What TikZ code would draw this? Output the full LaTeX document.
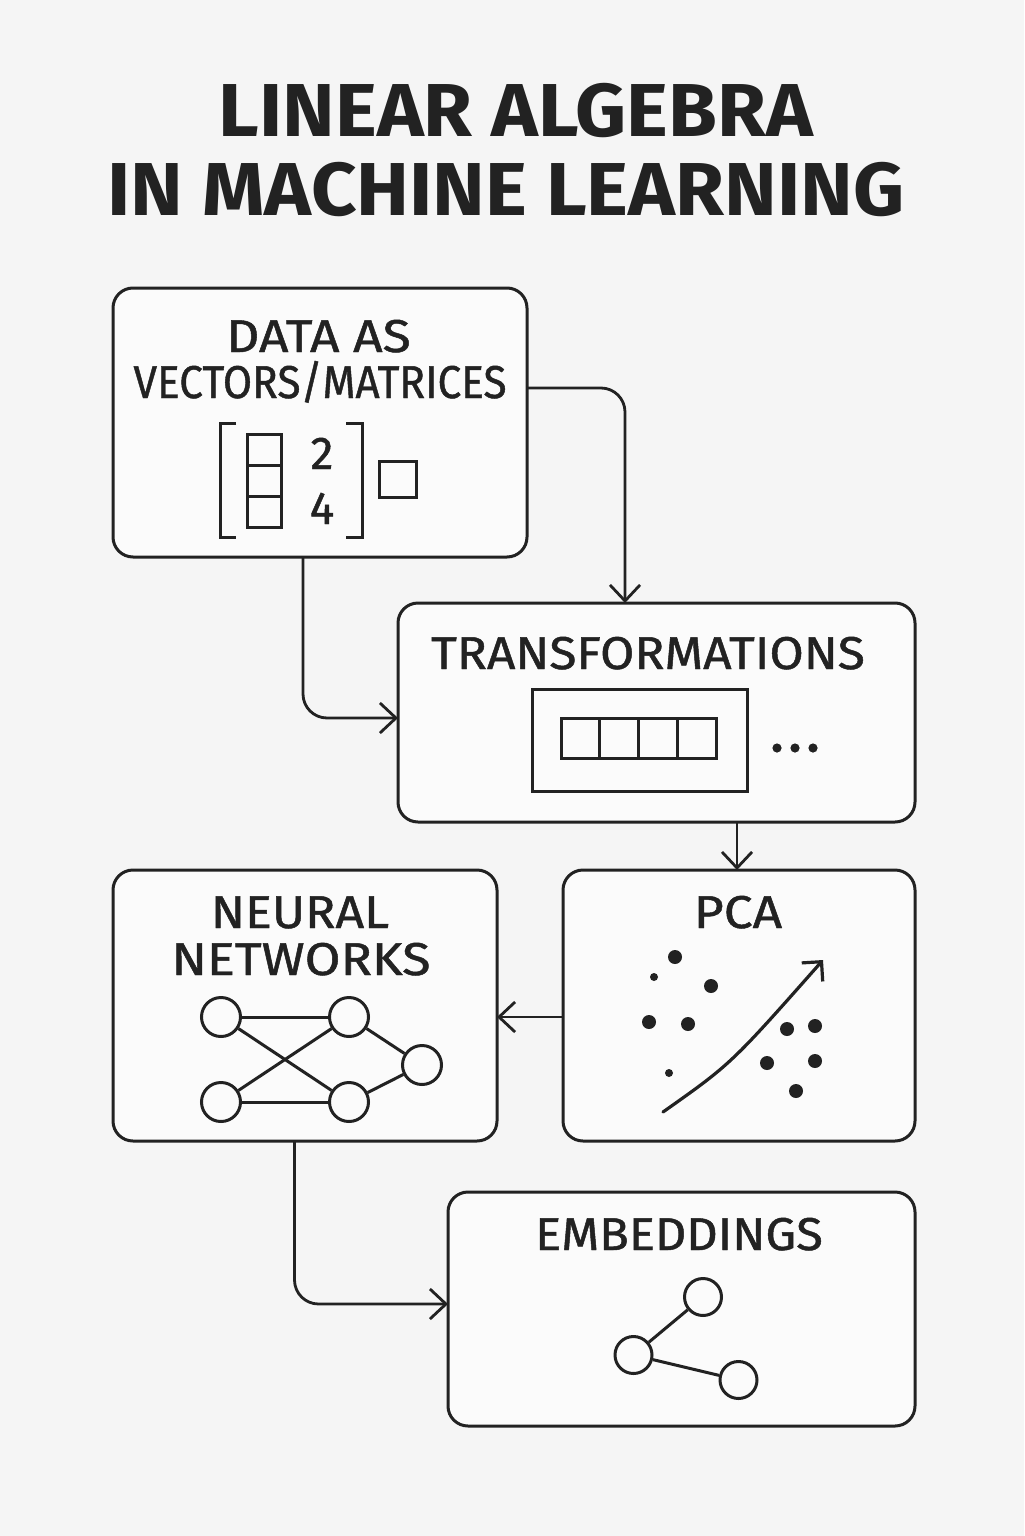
\documentclass[tikz,border=0pt]{standalone}
\usepackage{fontspec}
\setmainfont{Fira Sans}
\newfontfamily\labfont[FakeBold=1]{Fira Sans}
\usetikzlibrary{arrows.meta}
\definecolor{ink}{HTML}{222222}
\definecolor{bg}{HTML}{F5F5F5}
\definecolor{boxfill}{HTML}{FBFBFB}
\begin{document}
\begin{tikzpicture}[x=0.5pt,y=-0.5pt,
  box/.style={draw=ink, line width=1.5pt, fill=boxfill, rounded corners=10pt, inner sep=0pt, outer sep=0pt},
  conn/.style={draw=ink, line width=1.4pt, rounded corners=12pt, -{Straight Barb[length=8pt,width=15pt]}},
  lab/.style={text=ink, font=\labfont\fontsize{23}{27}\selectfont, anchor=base, inner sep=0pt},
  ttl/.style={text=ink, font=\bfseries\fontsize{37.5}{44}\selectfont, anchor=base, inner sep=0pt},
  nn/.style={circle, draw=ink, line width=1.5pt, minimum size=19.5pt, inner sep=0pt, fill=boxfill},
  em/.style={circle, draw=ink, line width=1.5pt, minimum size=18.5pt, inner sep=0pt, fill=boxfill},
  edge/.style={draw=ink, line width=1.5pt},
  art/.style={draw=ink, line width=1.5pt}
]
\fill[bg] (0,0) rectangle (1024,1536);
\useasboundingbox (0,0) rectangle (1024,1536);

% title
\node[ttl] (title1) at (516,137) {\scalebox{1.057}[1]{LINEAR ALGEBRA}};
\node[ttl] (title2) at (506,215) {\scalebox{1.059}[1]{IN MACHINE LEARNING}};

% boxes
\node[box, minimum width=207pt, minimum height=134.5pt] (b1) at (320,422.5) {};
\node[box, minimum width=258.5pt, minimum height=109.5pt] (b2) at (656.5,712.5) {};
\node[box, minimum width=192pt, minimum height=135.5pt] (b3) at (305,1005.5) {};
\node[box, minimum width=176pt, minimum height=135.5pt] (b4) at (739,1005.5) {};
\node[box, minimum width=233.5pt, minimum height=117pt] (b5) at (681.5,1309) {};

% connectors
\draw[conn] ([yshift=17.25pt]b1.east) -| ([xshift=-15.75pt]b2.north);
\draw[conn] ([xshift=-8.5pt]b1.south) |- ([yshift=-2.75pt]b2.west);
\draw[conn] ([xshift=40.25pt]b2.south) -- ([xshift=40.25pt]b2.south |- b4.north);
\draw[conn] ([yshift=-5.75pt]b4.west) -- ([yshift=-5.75pt]b3.east);
\draw[conn] ([xshift=-5.25pt]b3.south) |- ([yshift=2.5pt]b5.west);

% box 1 content
\node[lab] (l1a) at (318.5,352) {\scalebox{1.12}[1]{DATA AS}};
\node[lab] (l1b) at (320,398) {\scalebox{0.92}[1]{VECTORS/MATRICES}};
\draw[art] (236,423) -- (220,423) -- (220,537) -- (236,537);
\draw[art] (346,423) -- (362,423) -- (362,537) -- (346,537);
\draw[art] (247,434) rectangle (281,527);
\draw[art] (247,465) -- (281,465);
\draw[art] (247,496) -- (281,496);
\node[lab] (n2) at (322,469) {2};
\node[lab] (n4) at (322,524) {4};
\draw[art] (379,461) rectangle (416,497);

% box 2 content
\node[lab] (l2) at (648,669) {\scalebox{1.08}[1]{TRANSFORMATIONS}};
\draw[art] (532,689) rectangle (747,791);
\draw[art] (561,718) rectangle (716,758);
\draw[art] (599.75,718) -- (599.75,758);
\draw[art] (638.5,718) -- (638.5,758);
\draw[art] (677.25,718) -- (677.25,758);
\fill[ink] (777,748) circle (2.3pt) (795,748) circle (2.3pt) (813,748) circle (2.3pt);

% box 3 content
\node[lab] (l3a) at (300,928) {\scalebox{1.09}[1]{NEURAL}};
\node[lab] (l3b) at (301,975) {\scalebox{1.13}[1]{NETWORKS}};
\node[nn] (na) at (221,1017) {};
\node[nn] (nb) at (349,1017) {};
\node[nn] (nc) at (221,1102) {};
\node[nn] (nd) at (349,1102) {};
\node[nn] (ne) at (422,1065) {};
\draw[edge] (na) -- (nb);
\draw[edge] (nc) -- (nd);
\draw[edge] (na) -- (nd);
\draw[edge] (nc) -- (nb);
\draw[edge] (nb) -- (ne);
\draw[edge] (nd) -- (ne);

% box 4 content
\node[lab] (l4) at (738,928) {\scalebox{1.12}[1]{PCA}};
\fill[ink] (675,957) circle (3.5pt) (711,986) circle (3.5pt) (649,1022) circle (3.5pt)
  (688,1024) circle (3.5pt) (787,1029) circle (3.5pt) (815,1026) circle (3.5pt)
  (767,1063) circle (3.5pt) (815,1061) circle (3.5pt) (796,1091) circle (3.5pt);
\fill[ink] (654,977) circle (2pt) (669,1073) circle (2pt);
\draw[draw=ink, line width=1.6pt, line cap=round, -{Straight Barb[length=7pt,width=14pt]}] (663,1112) .. controls (731,1064) .. (823,960);

% box 5 content
\node[lab] (l5) at (679,1250) {\scalebox{1.06}[1]{EMBEDDINGS}};
\node[em] (ea) at (703,1297) {};
\node[em] (eb) at (633.5,1355) {};
\node[em] (ec) at (738.5,1380) {};
\draw[edge] (eb) -- (ea);
\draw[edge] (eb) -- (ec);
\end{tikzpicture}
\end{document}
